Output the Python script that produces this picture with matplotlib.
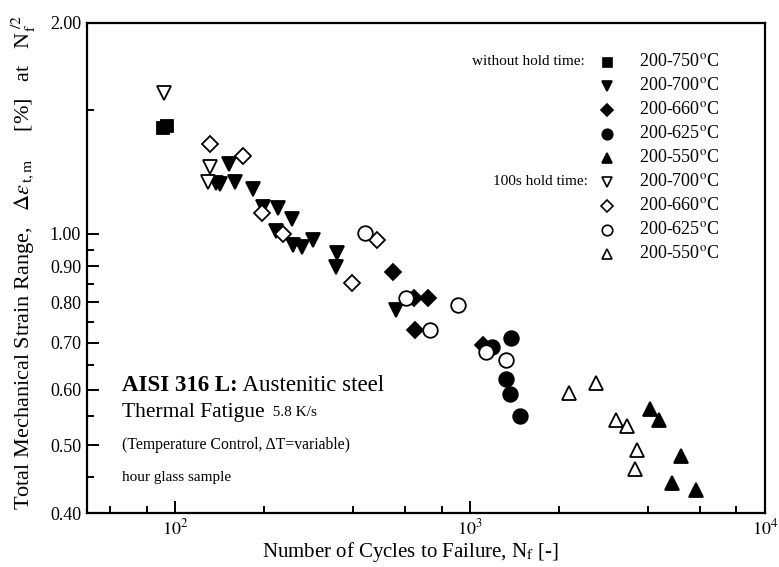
import numpy as np
import matplotlib
matplotlib.use("Agg")
import matplotlib.pyplot as plt
from matplotlib.ticker import FixedLocator, NullFormatter, FixedFormatter

plt.rcParams['font.family'] = ['Liberation Serif', 'DejaVu Serif']
plt.rcParams['mathtext.fontset'] = 'stix'

# ---- data (Nf, strain range %) ----
nh750_x = [90.6, 93.4]
nh750_y = [1.414, 1.427]

nh700_x = [137.5, 141.1, 152.5, 159.0, 182.9, 197.9, 222.0, 247.7, 218.6, 250.2, 268.3, 291.9, 352.9, 351.3, 561.6]
nh700_y = [1.183, 1.178, 1.257, 1.187, 1.159, 1.091, 1.089, 1.049, 1.011, 0.966, 0.959, 0.979, 0.939, 0.897, 0.779]

nh660_x = [547.0, 644.4, 721.3, 647.9, 1105.4]
nh660_y = [0.882, 0.811, 0.811, 0.730, 0.694]

nh625_x = [1189.7, 1380.0, 1319.7, 1361.7, 1481.0]
nh625_y = [0.691, 0.711, 0.621, 0.591, 0.551]

nh550_x = [4069, 4355, 5186, 4844, 5818]
nh550_y = [0.563, 0.543, 0.482, 0.442, 0.432]

h700_x = [91.3, 131.2, 128.8]
h700_y = [1.586, 1.247, 1.187]

h660_x = [130.5, 169.3, 195.9, 232.2, 484.1, 396.9]
h660_y = [1.344, 1.291, 1.070, 1.001, 0.980, 0.851]

h625_x = [440.8, 607.3, 910.7, 728.6, 1135.4, 1319.7]
h625_y = [1.002, 0.811, 0.792, 0.731, 0.680, 0.661]

h550_x = [2160, 2668, 3112, 3413, 3684, 3610]
h550_y = [0.593, 0.614, 0.543, 0.533, 0.493, 0.463]

legend_labels = ['200-750', '200-700', '200-660', '200-625', '200-550',
                 '200-700', '200-660', '200-625', '200-550']

y_ticks = [0.40, 0.50, 0.60, 0.70, 0.80, 0.90, 1.00, 2.00]
y_minor = [0.45, 0.55, 0.65, 0.75, 0.85, 0.95, 1.5]
x_ticks = [1e2, 1e3, 1e4]
x_minor = [60, 80, 200, 400, 600, 800, 2000, 4000, 6000, 8000]

fig = plt.figure(figsize=(7.79, 5.67), dpi=100)
ax = fig.add_axes([0.1113, 0.0947, 0.8707, 0.8653])
ax.set_xscale('log')
ax.set_yscale('log')
ax.set_xlim(50, 1e4)
ax.set_ylim(0.4, 2.0)

series = [
    (nh750_x, nh750_y, 's', True, 9),
    (nh700_x, nh700_y, 'v', True, 10),
    (nh660_x, nh660_y, 'D', True, 8.5),
    (nh625_x, nh625_y, 'o', True, 10.5),
    (nh550_x, nh550_y, '^', True, 10),
    (h700_x, h700_y, 'v', False, 10),
    (h660_x, h660_y, 'D', False, 8.5),
    (h625_x, h625_y, 'o', False, 10.5),
    (h550_x, h550_y, '^', False, 10),
]
for xs, ys, m, filled, ms in series:
    ax.plot(xs, ys, linestyle='none', marker=m, markersize=ms,
            markerfacecolor='black' if filled else 'white',
            markeredgecolor='black', markeredgewidth=1.3, zorder=3)

# legend (manual)
lx_m, lx_t = 0.7666, 0.8142
ly0, dy = 0.9199, 0.0489
for i, (lab, (xs, ys, m, filled, ms)) in enumerate(zip(legend_labels, series)):
    yy = ly0 - i * dy
    ax.plot([lx_m], [yy], transform=ax.transAxes, linestyle='none', marker=m,
            markersize=ms * 0.72, markerfacecolor='black' if filled else 'white',
            markeredgecolor='black', markeredgewidth=1.2, clip_on=False)
    ax.text(lx_t, yy, lab + r'$^{\mathrm{o}}$C', transform=ax.transAxes,
            fontsize=13, va='center', ha='left')
ax.text(0.7346, ly0, 'without hold time:', transform=ax.transAxes,
        fontsize=11, va='center', ha='right')
ax.text(0.739, ly0 - 5 * dy, '100s hold time:', transform=ax.transAxes,
        fontsize=11, va='center', ha='right')

# annotations
t1 = ax.text(0.052, 0.2615, 'AISI 316 L:', transform=ax.transAxes,
             fontsize=16.5, fontweight='bold', va='center', ha='left')
ax.annotate(' Austenitic steel', xy=(1, 0.5), xycoords=t1, fontsize=16.5,
            va='center', ha='left')
t2 = ax.text(0.052, 0.2063, 'Thermal Fatigue', transform=ax.transAxes,
             fontsize=15.5, va='center', ha='left')
ax.annotate('  5.8 K/s', xy=(1, 0.15), xycoords=t2, fontsize=11,
            va='bottom', ha='left')
ax.text(0.052, 0.139, '(Temperature Control, ΔT=variable)', transform=ax.transAxes,
        fontsize=11.3, va='center', ha='left')
ax.text(0.052, 0.072, 'hour glass sample', transform=ax.transAxes,
        fontsize=11, va='center', ha='left')

# ticks
ax.yaxis.set_major_locator(FixedLocator(y_ticks))
ax.yaxis.set_major_formatter(FixedFormatter(['%.2f' % v for v in y_ticks]))
ax.yaxis.set_minor_locator(FixedLocator(y_minor))
ax.yaxis.set_minor_formatter(NullFormatter())
ax.xaxis.set_major_locator(FixedLocator(x_ticks))
ax.xaxis.set_major_formatter(FixedFormatter([r'$10^{2}$', r'$10^{3}$', r'$10^{4}$']))
ax.xaxis.set_minor_locator(FixedLocator(x_minor))
ax.xaxis.set_minor_formatter(NullFormatter())
ax.tick_params(which='both', direction='in', top=False, right=False, width=1.4,
               labelsize=13, colors='black')
ax.tick_params(which='major', length=8.4, pad=4)
ax.tick_params(which='minor', length=4.8)
for s in ax.spines.values():
    s.set_linewidth(1.6)

ax.set_xlabel('Number of Cycles to Failure, N$_{\\mathrm{f}}$ [-]', fontsize=15)
ax.xaxis.set_label_coords(0.478, -0.054)
ax.set_ylabel('Total Mechanical Strain Range,   $\\Delta\\varepsilon_{\\,\\mathrm{t,m}}$     [%]   at   N$_{\\mathrm{f}}^{\\;/2}$',
              fontsize=16)
ax.yaxis.set_label_coords(-0.072, 0.512)

fig.savefig('out.png', dpi=100)
